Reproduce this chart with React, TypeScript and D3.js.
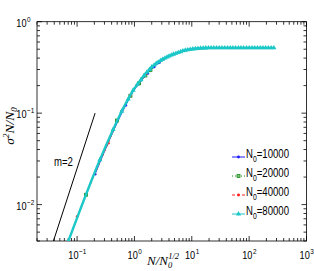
import { useEffect, useRef } from "react";
import * as d3 from "d3";

const W = 314;
const H = 271;

// axis extents (log)
const xDomain = [0.02, 1000];
const yDomain = [0.004, 1];
const xTickExps = [-1, 0, 1, 2, 3];
const yTickExps = [-2, -1, 0];

// N0 = 10000
const x10000 = [0.206, 0.3, 0.45, 0.706, 0.95, 1.206, 1.706, 2.206, 2.706, 3.5, 4.5, 6, 8, 11, 16, 25, 40, 60, 95];
const y10000 = [0.0215, 0.038, 0.068, 0.122, 0.172, 0.21, 0.272, 0.32, 0.356, 0.395, 0.428, 0.46, 0.485, 0.503, 0.512, 0.515, 0.516, 0.516, 0.516];
const marks10000 = [0.206, 0.706, 1.206, 1.706, 2.206, 2.706];

// N0 = 20000
const x20000 = [0.143, 0.25, 0.495, 0.85, 1.2, 1.55, 1.9, 2.5, 3.5, 5, 7, 10, 15, 25, 45, 80, 134];
const y20000 = [0.0128, 0.031, 0.083, 0.155, 0.212, 0.258, 0.297, 0.35, 0.398, 0.445, 0.478, 0.5, 0.512, 0.516, 0.517, 0.517, 0.517];
const marks20000 = [0.143, 0.495, 0.85, 1.2, 1.55, 1.9];

// N0 = 40000
const x40000 = [0.1, 0.2, 0.35, 0.6, 0.85, 1.1, 1.35, 1.6, 2.1, 3, 4.5, 6.5, 9, 13, 20, 35, 60, 110, 190];
const y40000 = [0.0074, 0.021, 0.047, 0.105, 0.156, 0.203, 0.24, 0.27, 0.32, 0.38, 0.435, 0.472, 0.495, 0.51, 0.516, 0.517, 0.517, 0.518, 0.518];
const marks40000 = [0.1, 0.35, 0.6, 0.85, 1.1, 1.35, 1.6];

// N0 = 80000 (every point marked)
const x80000 = [0.0706, 0.25, 0.424, 0.6, 0.78, 0.95, 1.13, 1.3, 1.48, 1.66, 1.84, 2.0, 2.2, 2.4, 2.6, 2.85, 3.1, 3.4, 3.7, 4.0, 4.4, 4.8, 5.3, 5.8, 6.4, 7.0, 7.7, 8.5, 9.4, 10.4, 11.5, 12.8, 14.2, 15.8, 17.5, 19.5, 21.7, 24.2, 27, 30, 33.5, 37.5, 42, 47, 52, 58, 65, 72, 80, 90, 100, 112, 125, 140, 156, 174, 194, 216, 242, 270];
const y80000 = [0.004, 0.031, 0.066, 0.105, 0.143, 0.178, 0.207, 0.232, 0.26, 0.282, 0.3, 0.32, 0.335, 0.35, 0.362, 0.376, 0.388, 0.4, 0.41, 0.42, 0.431, 0.441, 0.451, 0.46, 0.47, 0.48, 0.487, 0.493, 0.498, 0.503, 0.507, 0.51, 0.513, 0.515, 0.516, 0.517, 0.517, 0.518, 0.518, 0.518, 0.518, 0.518, 0.518, 0.518, 0.518, 0.518, 0.518, 0.518, 0.518, 0.518, 0.518, 0.518, 0.518, 0.518, 0.518, 0.518, 0.518, 0.518, 0.518, 0.518];

// reference slope line
const slopeX = [0.0387, 0.206];
const slopeY = [0.004, 0.1];
const slopeLabel = "m=2";

const legendValues = ["10000", "20000", "40000", "80000"];

const SANS = "'Liberation Sans', Arial, sans-serif";
const SERIF = "'Liberation Serif', 'Times New Roman', serif";
const SQUEEZE = 0.8; // the figure's sans text is horizontally condensed

export default function App() {
  const ref = useRef<SVGSVGElement>(null);

  useEffect(() => {
    const svg = d3.select(ref.current);
    svg.selectAll("*").remove();

    const left = 37, right = 306.5, top = 21.7, bottom = 241;
    const x = d3.scaleLog().domain(xDomain).range([left, right]);
    const y = d3.scaleLog().domain(yDomain).range([bottom, top]);

    svg.append("rect").attr("width", W).attr("height", H).attr("fill", "#fff");

    svg.append("clipPath").attr("id", "plot")
      .append("rect").attr("x", left).attr("y", top)
      .attr("width", right - left).attr("height", bottom - top);

    // frame
    svg.append("rect")
      .attr("x", left).attr("y", top)
      .attr("width", right - left).attr("height", bottom - top)
      .attr("fill", "none").attr("stroke", "#000").attr("stroke-width", 0.8);

    // log ticks (inward, all four sides)
    const logTicks = (dom: number[]) => {
      const out: { v: number; major: boolean }[] = [];
      const lo = Math.floor(Math.log10(dom[0]));
      const hi = Math.ceil(Math.log10(dom[1]));
      for (let e = lo; e <= hi; e++) {
        for (let k = 1; k <= 9; k++) {
          const v = k * Math.pow(10, e);
          if (v >= dom[0] * 0.999 && v <= dom[1] * 1.001) out.push({ v, major: k === 1 });
        }
      }
      return out;
    };
    const ticks = svg.append("g").attr("stroke", "#000").attr("stroke-width", 0.8);
    logTicks(xDomain).forEach((t) => {
      const px = x(t.v);
      const len = t.major ? 5 : 3;
      ticks.append("line").attr("x1", px).attr("x2", px).attr("y1", bottom).attr("y2", bottom - len);
      ticks.append("line").attr("x1", px).attr("x2", px).attr("y1", top).attr("y2", top + len);
    });
    logTicks(yDomain).forEach((t) => {
      const py = y(t.v);
      const len = t.major ? 5 : 3;
      ticks.append("line").attr("y1", py).attr("y2", py).attr("x1", left).attr("x2", left + len);
      ticks.append("line").attr("y1", py).attr("y2", py).attr("x1", right).attr("x2", right - len);
    });

    // condensed sans text placed at (px, py)
    const sansText = (parent: any, px: number, py: number, size: number) =>
      parent.append("text")
        .attr("transform", `translate(${px},${py}) scale(${SQUEEZE},1)`)
        .attr("font-family", SANS).attr("font-size", size).attr("fill", "#000");

    // tick labels as 10^e
    const expText = (e: number) => (e < 0 ? "\u2212" + Math.abs(e) : String(e));
    const power = (cx: number, baseY: number, e: number, anchor: "middle" | "end") => {
      const base = sansText(svg, 0, baseY, 11.5).text("10");
      const sup = sansText(svg, 0, baseY - 5, 8).text(expText(e));
      const bw = (base.node() as SVGTextElement).getComputedTextLength() * SQUEEZE;
      const sw = (sup.node() as SVGTextElement).getComputedTextLength() * SQUEEZE;
      const x0 = anchor === "middle" ? cx - (bw + sw) / 2 : cx - bw;
      base.attr("transform", `translate(${x0},${baseY}) scale(${SQUEEZE},1)`);
      sup.attr("transform", `translate(${x0 + bw + 0.5},${baseY - 5}) scale(${SQUEEZE},1)`);
    };
    xTickExps.forEach((e) => power(x(Math.pow(10, e)), 259, e, "middle"));
    yTickExps.forEach((e) => power(26.5, y(Math.pow(10, e)) + 5, e, "end"));

    // series
    const plot = svg.append("g").attr("clip-path", "url(#plot)");
    const line = d3.line<[number, number]>()
      .x((d) => x(d[0])).y((d) => y(d[1]))
      .curve(d3.curveMonotoneX);

    plot.append("path")
      .attr("d", line(slopeX.map((v, i) => [v, slopeY[i]] as [number, number])))
      .attr("fill", "none").attr("stroke", "#000").attr("stroke-width", 1);

    const tri = d3.symbol(d3.symbolTriangle, 11);
    const series = [
      { xs: x10000, ys: y10000, marks: x10000.filter((v) => marks10000.includes(v)), color: "#1a1aff", dash: null, marker: "dot" },
      { xs: x20000, ys: y20000, marks: x20000.filter((v) => marks20000.includes(v)), color: "#1a8c1a", dash: "1,2", marker: "square" },
      { xs: x40000, ys: y40000, marks: x40000.filter((v) => marks40000.includes(v)), color: "#ff2020", dash: "3,2", marker: "dot" },
      { xs: x80000, ys: y80000, marks: x80000, color: "#1cc7c7", dash: null, marker: "tri" },
    ];

    const drawMarker = (g: any, px: number, py: number, kind: string, color: string) => {
      if (kind === "dot") {
        g.append("circle").attr("cx", px).attr("cy", py).attr("r", 1.4).attr("fill", color);
      } else if (kind === "square") {
        g.append("rect").attr("x", px - 1.5).attr("y", py - 1.5).attr("width", 3).attr("height", 3)
          .attr("fill", "#7fc07f").attr("stroke", color).attr("stroke-width", 0.8);
      } else {
        g.append("path").attr("d", tri).attr("transform", `translate(${px},${py})`).attr("fill", color);
      }
    };

    series.forEach((s) => {
      const pts = s.xs.map((v, i) => [v, s.ys[i]] as [number, number]);
      plot.append("path")
        .attr("d", line(pts))
        .attr("fill", "none").attr("stroke", s.color)
        .attr("stroke-width", s.marker === "tri" ? 2.4 : 1)
        .attr("stroke-dasharray", s.dash);
      s.marks.forEach((mv) => {
        const i = s.xs.indexOf(mv);
        drawMarker(plot, x(mv), y(s.ys[i]), s.marker, s.color);
      });
    });

    // slope label
    sansText(svg, 54, 166, 12).text(slopeLabel);

    // legend
    legendValues.forEach((v, i) => {
      const s = series[i];
      const ly = 157 + i * 19;
      svg.append("line").attr("x1", 232).attr("x2", 245).attr("y1", ly).attr("y2", ly)
        .attr("stroke", s.color).attr("stroke-width", 1).attr("stroke-dasharray", s.dash);
      drawMarker(svg, 238.5, ly, s.marker, s.color);
      const t = sansText(svg, 246, ly + 1, 12);
      t.append("tspan").text("N");
      t.append("tspan").attr("font-size", 8.5).attr("dy", 4).text("0");
      t.append("tspan").attr("dy", -4).text("=" + v);
    });

    // axis labels
    const xl = svg.append("text").attr("x", 147).attr("y", 265)
      .attr("font-family", SERIF).attr("font-style", "italic").attr("font-size", 13);
    xl.append("tspan").text("N/N");
    xl.append("tspan").attr("font-size", 8.5).attr("dy", 3).text("0");
    xl.append("tspan").attr("font-size", 8.5).attr("dx", -4).attr("dy", -9).text("1/2");

    const yl = svg.append("text")
      .attr("transform", "translate(14,126) rotate(-90)")
      .attr("text-anchor", "middle")
      .attr("font-family", SERIF).attr("font-style", "italic").attr("font-size", 13.5);
    yl.append("tspan").text("σ");
    yl.append("tspan").attr("font-size", 9).attr("dy", -5).text("2");
    yl.append("tspan").attr("dy", 5).text("N/N");
    yl.append("tspan").attr("font-size", 9).attr("dy", 3).text("0");
  }, []);

  return (
    <svg
      ref={ref}
      width={W}
      height={H}
      style={{ position: "absolute", left: 0, top: 0, display: "block" }}
    />
  );
}
